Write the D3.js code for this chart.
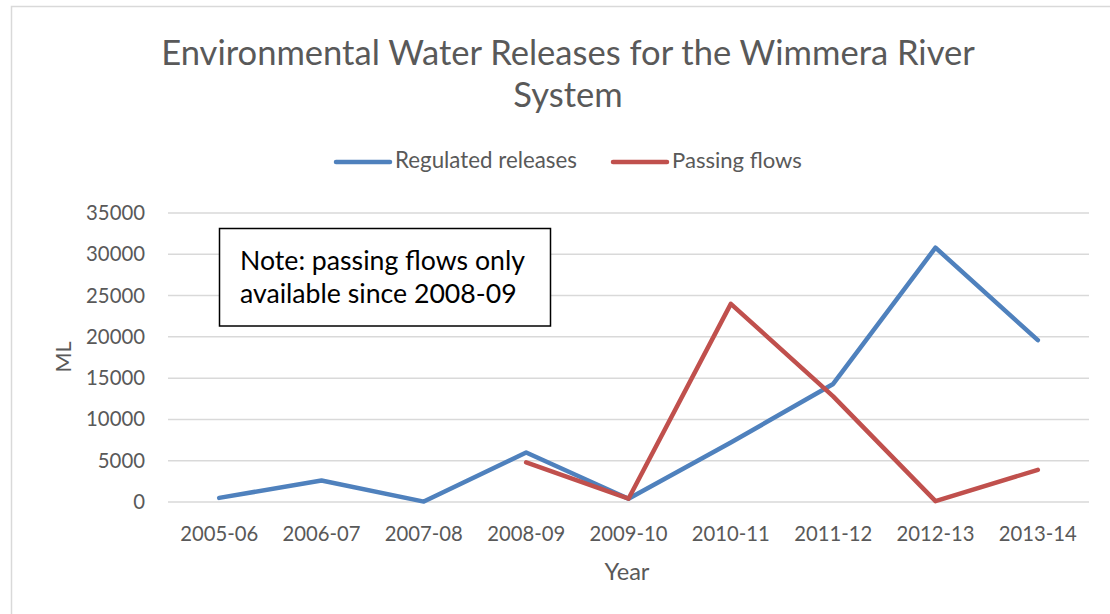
<!DOCTYPE html>
<html>
<head>
<meta charset="utf-8">
<script src="https://d3js.org/d3.v7.min.js"></script>
<style>
body { margin: 0; background: #fff; }
svg text { font-family: Lato, "Open Sans", sans-serif; }
</style>
</head>
<body>
<svg width="1110" height="614"></svg>
<script>
// data
var years = ["2005-06", "2006-07", "2007-08", "2008-09", "2009-10", "2010-11", "2011-12", "2012-13", "2013-14"];
var regulated = [500, 2600, 50, 6000, 400, 7200, 14300, 30800, 19600];
var passing = [null, null, null, 4800, 400, 24000, 12800, 100, 3900];
var yTicks = [0, 5000, 10000, 15000, 20000, 25000, 30000, 35000];
var seriesNames = ["Regulated releases", "Passing flows"];
var seriesColors = ["#4f81bd", "#c0504d"];

var svg = d3.select("svg");
var grey = "#595959";

// shrink / grow a text until it is the wanted width
function fit(sel, w) {
  var n = sel.node();
  var fs = parseFloat(sel.attr("font-size"));
  var cur = n.getComputedTextLength();
  if (cur > 0) sel.attr("font-size", (fs * w / cur).toFixed(2));
  return sel;
}

// outer frame
svg.append("path")
    .attr("d", "M11.5,614 V6.5 H1110")
    .attr("fill", "none")
    .attr("stroke", "#d9d9d9")
    .attr("stroke-width", 1.5);

var x = d3.scaleBand().domain(years).range([168, 1089]);
var y = d3.scaleLinear().domain([0, 35000]).range([502, 213]);
function cx(d) { return x(d) + x.bandwidth() / 2; }

// gridlines
svg.append("g").selectAll("line")
  .data(yTicks)
  .enter().append("line")
    .attr("x1", 168).attr("x2", 1089)
    .attr("y1", function(d) { return y(d); })
    .attr("y2", function(d) { return y(d); })
    .attr("stroke", "#d9d9d9")
    .attr("stroke-width", 1.5);

// y tick labels
svg.append("g").selectAll("text")
  .data(yTicks)
  .enter().append("text")
    .attr("x", 145)
    .attr("y", function(d) { return y(d) + 7; })
    .attr("text-anchor", "end")
    .attr("font-size", 20)
    .attr("fill", grey)
    .text(function(d) { return d; })
    .each(function(d) {
      fit(d3.select(this), String(d).length * 11.8);
    });

// x tick labels
svg.append("g").selectAll("text")
  .data(years)
  .enter().append("text")
    .attr("x", cx)
    .attr("y", 541)
    .attr("text-anchor", "middle")
    .attr("font-size", 20)
    .attr("fill", grey)
    .text(function(d) { return d; })
    .each(function() { fit(d3.select(this), 78); });

// axis titles
fit(svg.append("text")
    .attr("x", 627).attr("y", 580)
    .attr("text-anchor", "middle")
    .attr("font-size", 22)
    .attr("fill", grey)
    .text("Year"), 45);

fit(svg.append("text")
    .attr("transform", "translate(71,357) rotate(-90)")
    .attr("text-anchor", "middle")
    .attr("font-size", 22)
    .attr("fill", grey)
    .text("ML"), 31);

// lines
var line = d3.line()
    .defined(function(d) { return d[1] != null; })
    .x(function(d) { return cx(d[0]); })
    .y(function(d) { return y(d[1]); });

[regulated, passing].forEach(function(vals, i) {
  svg.append("path")
      .datum(years.map(function(yr, j) { return [yr, vals[j]]; }))
      .attr("fill", "none")
      .attr("stroke", seriesColors[i])
      .attr("stroke-width", 4.5)
      .attr("stroke-linecap", "round")
      .attr("stroke-linejoin", "round")
      .attr("d", line);
});

// title
var title1 = fit(svg.append("text")
    .attr("x", 568).attr("y", 65)
    .attr("text-anchor", "middle")
    .attr("font-size", 36)
    .attr("fill", grey)
    .text("Environmental Water Releases for the Wimmera River"), 814);
svg.append("text")
    .attr("x", 568).attr("y", 107)
    .attr("text-anchor", "middle")
    .attr("font-size", title1.attr("font-size"))
    .attr("fill", grey)
    .text("System");

// legend
var legX = [336, 613];
var legW = [182, 130];
seriesNames.forEach(function(name, i) {
  svg.append("line")
      .attr("x1", legX[i]).attr("x2", legX[i] + 54)
      .attr("y1", 162).attr("y2", 162)
      .attr("stroke", seriesColors[i])
      .attr("stroke-width", 4.5)
      .attr("stroke-linecap", "round");
  fit(svg.append("text")
      .attr("x", legX[i] + 59).attr("y", 168)
      .attr("font-size", 20)
      .attr("fill", grey)
      .text(name), legW[i]);
});

// note box
svg.append("rect")
    .attr("x", 219.5).attr("y", 228.5)
    .attr("width", 331).attr("height", 97.5)
    .attr("fill", "#fff")
    .attr("stroke", "#000")
    .attr("stroke-width", 1.5);
var n1 = fit(svg.append("text")
    .attr("x", 240).attr("y", 270)
    .attr("font-size", 26)
    .attr("fill", "#000")
    .text("Note: passing flows only"), 285);
svg.append("text")
    .attr("x", 240).attr("y", 303)
    .attr("font-size", n1.attr("font-size"))
    .attr("fill", "#000")
    .text("available since 2008-09");
</script>
</body>
</html>
